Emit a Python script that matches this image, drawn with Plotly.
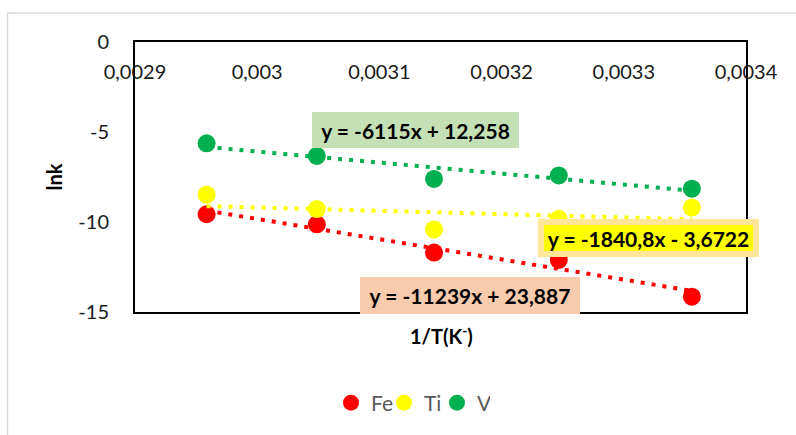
import plotly.graph_objects as go

# Data
inv_T = [0.0029586, 0.0030488, 0.0031447, 0.0032468, 0.0033557]
lnk_Fe = [-9.57, -10.13, -11.70, -12.11, -14.15]
lnk_Ti = [-8.48, -9.28, -10.41, -9.82, -9.20]
lnk_V = [-5.63, -6.33, -7.61, -7.41, -8.15]
series_names = ["Fe", "Ti", "V"]
# Trendline equations shown on the chart
slopes = [-11239, -1840.8, -6115]
intercepts = [23.887, -3.6722, 12.258]
eq_texts = ["y = -11239x + 23,887", "y = -1840,8x - 3,6722", "y = -6115x + 12,258"]
# Axis tick labels
y_tick_vals = [0, -5, -10, -15]
y_tick_text = ["0", "-5", "-10", "-15"]

colors = ["#FF0000", "#FFFF00", "#00B050"]
FONT = "Lato"

fig = go.Figure()
for name, ys, c in zip(series_names, [lnk_Fe, lnk_Ti, lnk_V], colors):
    fig.add_trace(go.Scatter(x=inv_T, y=ys, mode="markers", name=name,
                             marker=dict(color=c, size=18), showlegend=True))
xs_fit = [min(inv_T), max(inv_T)]
for s, b, c in zip(slopes, intercepts, colors):
    fig.add_trace(go.Scatter(x=xs_fit, y=[s * x + b for x in xs_fit], mode="lines",
                             line=dict(color=c, width=4, dash="4px,7px"),
                             showlegend=False, hoverinfo="skip"))

# plot area pixel frame: l=135, r=746, t=42, b=312
def px(x):
    return (x - 135) / 611.0
def py(y):
    return (312 - y) / 270.0

LBL = 21
ann = []
ann.append(dict(text="<b>" + eq_texts[2] + "</b>", x=px(415.5), y=py(130), xref="paper", yref="paper",
                showarrow=False, bgcolor="#C5E0B4", width=207, height=36, borderpad=0, borderwidth=0,
                font=dict(family=FONT, size=LBL, color="black"), xanchor="center", yanchor="middle"))
ann.append(dict(text="<b>" + eq_texts[0] + "</b>", x=px(470), y=py(295.5), xref="paper", yref="paper",
                showarrow=False, bgcolor="#F8CBAD", width=220, height=37, borderpad=0, borderwidth=0,
                font=dict(family=FONT, size=LBL, color="black"), xanchor="center", yanchor="middle"))
ann.append(dict(text="<b>" + eq_texts[1] + "</b>", x=px(648.3), y=py(238.3), xref="paper", yref="paper",
                showarrow=False, bgcolor="#FFFF00", bordercolor="#FFE699", borderwidth=6,
                width=209, height=26, borderpad=0,
                font=dict(family=FONT, size=LBL, color="black"), xanchor="center", yanchor="middle"))
ann.append(dict(text="<b>1/T(K<sup>-</sup>)</b>", x=px(441), y=py(335), xref="paper", yref="paper",
                showarrow=False, font=dict(family=FONT, size=20, color="black"),
                xanchor="center", yanchor="middle"))

shapes = [
    dict(type="line", xref="paper", yref="paper", x0=px(7.5), x1=px(800), y0=py(13), y1=py(13),
         line=dict(color="#D9D9D9", width=1.5)),
    dict(type="line", xref="paper", yref="paper", x0=px(7.5), x1=px(7.5), y0=py(13), y1=py(440),
         line=dict(color="#D9D9D9", width=1.5)),
]

fig.update_layout(
    width=796, height=435,
    margin=dict(l=135, r=50, t=42, b=123, autoexpand=False),
    paper_bgcolor="white", plot_bgcolor="white",
    separators=", ",
    font=dict(family=FONT, size=20, color="#1a1a1a"),
    annotations=ann, shapes=shapes,
    legend=dict(orientation="h", x=px(331), xanchor="left", y=py(403), yanchor="middle",
                entrywidth=8, entrywidthmode="pixels",
                font=dict(family=FONT, size=21, color="#595959"), bgcolor="rgba(0,0,0,0)",
                itemclick=False),
    xaxis=dict(range=[0.0029, 0.0034], dtick=0.0001, tick0=0.0029, side="top",
               ticklabelposition="inside", ticklabeloverflow="allow", ticks="",
               showgrid=False, zeroline=False, automargin=False,
               showline=True, mirror=True, linecolor="black", linewidth=2,
               exponentformat="none", ticklabelstandoff=24,
               tickfont=dict(family=FONT, size=20, color="#1a1a1a")),
    yaxis=dict(range=[-15, 0], tickmode="array", tickvals=y_tick_vals, ticktext=y_tick_text,
               ticks="", showgrid=False, zeroline=False,
               showline=True, mirror=True, linecolor="black", linewidth=2,
               ticklabelstandoff=20, ticklabeloverflow="allow", automargin=False,
               tickfont=dict(family=FONT, size=20, color="#1a1a1a"),
               title=dict(text="<b>lnk</b>", font=dict(family=FONT, size=20, color="black"),
                          standoff=10)),
)

fig.write_html("out.html", config={"displayModeBar": False},
               post_script="document.body.style.margin='0px';document.body.style.overflow='hidden';")
